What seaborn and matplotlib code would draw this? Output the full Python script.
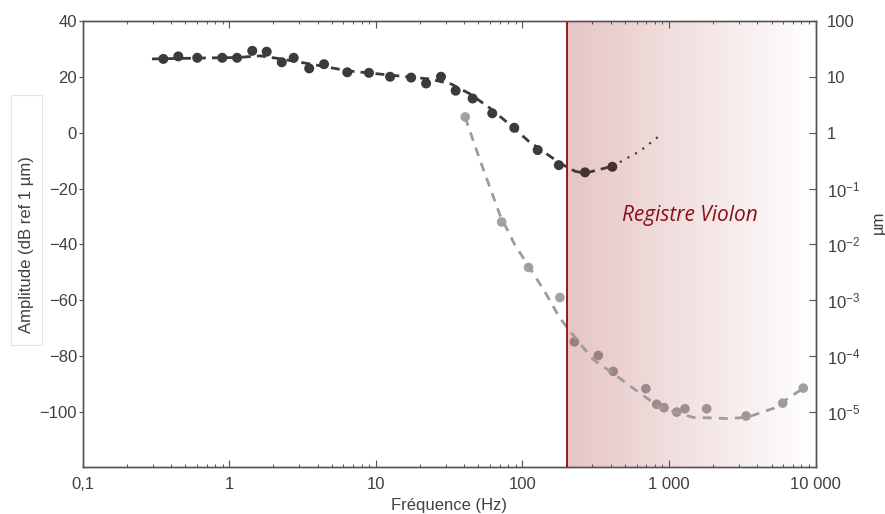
import numpy as np
import pandas as pd
import seaborn as sns
import matplotlib.pyplot as plt
from matplotlib.patches import Rectangle
from matplotlib.ticker import FixedLocator, NullLocator, LogLocator, NullFormatter

# ---------------- data ----------------
dark_freq = [0.355, 0.449, 0.605, 0.896, 1.13, 1.435, 1.80, 2.28, 2.75, 3.51, 4.43, 6.38,
             8.97, 12.5, 17.4, 22.0, 27.8, 35.0, 45.7, 62.2, 87.9, 127, 177, 267, 410]
dark_db = [26.5, 27.4, 26.9, 26.9, 26.9, 29.4, 29.1, 25.3, 26.9, 23.1, 24.6, 21.7,
           21.5, 20.1, 19.8, 17.7, 20.1, 15.1, 12.3, 7.0, 1.8, -6.2, -11.6, -14.2, -12.2]

gray_freq = [40.7, 72.1, 110, 180, 226, 329, 416, 695, 823, 923, 1127, 1283, 1805, 3350, 5957, 8227]
gray_db = [5.7, -32.0, -48.3, -59.1, -75.0, -79.9, -85.6, -91.8, -97.4, -98.6, -100.2, -99.0,
           -99.0, -101.6, -97.0, -91.6]

dark_fit_freq = [0.297, 0.631, 1.13, 1.62, 2.19, 3.55, 6.5, 12.5, 23.3, 32.6, 44.0, 59.8,
                 81.3, 110, 180, 228, 267, 410]
dark_fit_db = [26.5, 26.8, 27.0, 27.6, 26.6, 24.7, 22.2, 20.7, 19.3, 17.5, 13.9, 8.9,
               3.1, -3.0, -10.9, -13.8, -14.5, -12.0]

dark_ext_freq = [410, 632, 908]
dark_ext_db = [-12.0, -6.6, -0.1]

gray_fit_freq = [40.6, 51.3, 70.3, 88.9, 112.5, 142.6, 180, 228, 303, 414, 664, 867,
                 1456, 2483, 3398, 5117, 8185]
gray_fit_db = [5.6, -9.8, -29.6, -40.3, -48.6, -57.2, -66.5, -73.4, -81.3, -86.3, -94.2, -98.5,
               -102.1, -102.5, -102.1, -98.9, -91.7]

violin_low = 200
violin_label = "Registre Violon"

x_ticks = [0.1, 1, 10, 100, 1000, 10000]
x_ticklabels = ["0,1", "1", "10", "100", "1 000", "10 000"]
y_ticks = [40, 20, 0, -20, -40, -60, -80, -100]
y2_ticks = [1e2, 1e1, 1, 1e-1, 1e-2, 1e-3, 1e-4, 1e-5]
y2_ticklabels = ["100", "10", "1", r"$10^{\mathsf{-1}}$", r"$10^{\mathsf{-2}}$", r"$10^{\mathsf{-3}}$",
                 r"$10^{\mathsf{-4}}$", r"$10^{\mathsf{-5}}$"]

# ---------------- style ----------------
sns.set_theme(style="white")
plt.rcParams['font.family'] = ['Liberation Sans', 'DejaVu Sans']
plt.rcParams['mathtext.fontset'] = 'custom'
plt.rcParams['mathtext.rm'] = 'Liberation Sans'
plt.rcParams['mathtext.sf'] = 'Liberation Sans'
plt.rcParams['mathtext.it'] = 'Liberation Sans:italic'

spine_c = '#555555'
text_c = '#404040'
dark_c = '#3b3b3b'
gray_c = '#a2a2a2'

fig = plt.figure(figsize=(8.85, 5.14), dpi=100)
ax = fig.add_axes([0.0934, 0.0909, 0.8283, 0.8677])

# gradient overlay for violin register
x0 = (np.log10(violin_low) + 1) / 5.0
grad = np.zeros((1, 256, 4))
grad[..., 0] = 147 / 255
grad[..., 3] = np.linspace(0.231, 0.0, 256)
ax.imshow(grad, extent=[x0, 1, 0, 1], transform=ax.transAxes, aspect='auto',
          interpolation='bilinear', zorder=3)

df_dark = pd.DataFrame({'f': dark_freq, 'db': dark_db})
df_gray = pd.DataFrame({'f': gray_freq, 'db': gray_db})
df_dfit = pd.DataFrame({'f': dark_fit_freq, 'db': dark_fit_db})
df_dext = pd.DataFrame({'f': dark_ext_freq, 'db': dark_ext_db})
df_gfit = pd.DataFrame({'f': gray_fit_freq, 'db': gray_fit_db})

sns.scatterplot(data=df_gray, x='f', y='db', ax=ax, color=gray_c, s=48, edgecolor='none', zorder=2)
sns.scatterplot(data=df_dark, x='f', y='db', ax=ax, color=dark_c, s=52, edgecolor='none', zorder=2)

sns.lineplot(data=df_gfit, x='f', y='db', ax=ax, color='#9c9c9c', lw=2.0,
             linestyle=(0, (3.2, 2.6)), zorder=4, estimator=None)
sns.lineplot(data=df_dfit, x='f', y='db', ax=ax, color=dark_c, lw=2.0,
             linestyle=(0, (3.2, 2.2)), zorder=4, estimator=None)
sns.lineplot(data=df_dext, x='f', y='db', ax=ax, color=dark_c, lw=1.6,
             linestyle=(0, (0.9, 3.0)), zorder=4, estimator=None)

ax.axvline(violin_low, color='#8e1b1b', lw=1.4, zorder=5)
ax.text(1390, -29.6, violin_label, ha='center', va='center', style='italic',
        color='#8a0f14', fontsize=15, family=['Open Sans', 'DejaVu Sans'], zorder=6)

ax.set_xscale('log')
ax.set_xlim(0.1, 10000)
ax.set_ylim(-120, 40)
ax.set_xticks(x_ticks)
ax.set_xticklabels(x_ticklabels)
ax.xaxis.set_minor_locator(LogLocator(base=10, subs=np.arange(2, 10)))
ax.xaxis.set_minor_formatter(NullFormatter())
ax.set_yticks(y_ticks)
ax.set_xlabel("Fréquence (Hz)", fontsize=12, color=text_c, labelpad=4)
ax.set_ylabel("")

ax.tick_params(axis='x', which='major', direction='in', length=4.8, width=0.8,
               top=True, bottom=True, color=spine_c, labelcolor=text_c, labelsize=12, pad=7)
ax.tick_params(axis='x', which='minor', direction='in', length=2.4, width=0.7,
               top=True, bottom=True, color=spine_c)
ax.tick_params(axis='y', which='major', direction='out', length=3, width=0.8,
               left=True, right=False, color=spine_c, labelcolor=text_c, labelsize=12, pad=1)
for s in ax.spines.values():
    s.set_color(spine_c)
    s.set_linewidth(1.0)
    s.set_visible(True)

ax2 = ax.twinx()
ax2.set_yscale('log')
ax2.set_ylim(1e-6, 100)
ax2.yaxis.set_major_locator(FixedLocator(y2_ticks))
ax2.set_yticklabels(y2_ticklabels)
ax2.yaxis.set_minor_locator(NullLocator())
ax2.tick_params(axis='y', which='major', direction='in', length=4.8, width=0.8,
                right=True, left=False, color=spine_c, labelcolor=text_c, labelsize=12, pad=8)
ax2.grid(False)
ax.grid(False)
for s in ax2.spines.values():
    s.set_color(spine_c)
    s.set_linewidth(1.0)

# y label with its light box
fig.patches.append(Rectangle((11 / 885, 1 - 345 / 514), 31 / 885, 250 / 514,
                             transform=fig.transFigure, fill=False, ec='#e2e2e2', lw=0.8))
fig.text(27 / 885, 1 - 245 / 514, "Amplitude (dB ref 1 µm)", rotation=90, ha='center',
         va='center', fontsize=12, color=text_c)
fig.text(878 / 885, 1 - 222 / 514, "µm", rotation=90, ha='center', va='center',
         fontsize=12, color=text_c)

fig.savefig("out.png", dpi=100)
